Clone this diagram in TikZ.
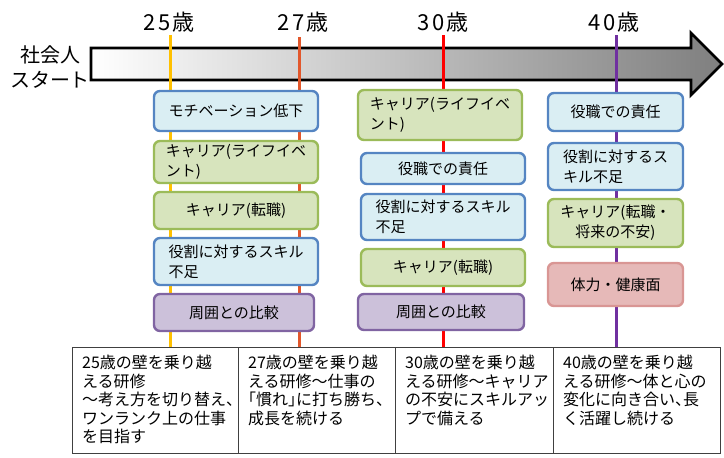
\documentclass[tikz,border=0pt]{standalone}
\usepackage{fontspec}
\setmainfont{Noto Sans CJK JP}
\newfontfamily\tblfont[RawFeature=+halt]{Noto Sans CJK JP}
\definecolor{bluefill}{HTML}{DAEEF3}
\definecolor{bluebd}{HTML}{5585C2}
\definecolor{greenfill}{HTML}{D7E4BD}
\definecolor{greenbd}{HTML}{9BBB59}
\definecolor{purplefill}{HTML}{CCC1DA}
\definecolor{purplebd}{HTML}{8064A2}
\definecolor{redfill}{HTML}{E6B9B8}
\definecolor{redbd}{HTML}{D99694}
\definecolor{c25}{HTML}{FFC000}
\definecolor{c27}{HTML}{E2572B}
\definecolor{c30}{HTML}{FF0000}
\definecolor{c40}{HTML}{7030A0}
\definecolor{arrowend}{HTML}{7F7F7F}
\definecolor{tblline}{HTML}{404040}
\begin{document}
\begin{tikzpicture}[x=1pt,y=-1pt,
  box/.style={rounded corners=6pt, line width=2.4pt, inner sep=0pt,
    font=\fontsize{15}{20}\selectfont, text=black},
  bluebox/.style={box, draw=bluebd, fill=bluefill},
  greenbox/.style={box, draw=greenbd, fill=greenfill},
  purplebox/.style={box, draw=purplebd, fill=purplefill},
  redbox/.style={box, draw=redbd, fill=redfill},
  agelabel/.style={inner sep=0pt, font=\fontsize{22}{24}\selectfont},
  ageline/.style={line width=3pt},
  tbltext/.style={anchor=north west, inner sep=0pt, align=left,
    font=\tblfont\fontsize{16}{18.5}\selectfont},
  tableline/.style={draw=tblline, line width=1pt}
]
\useasboundingbox (0,0) rectangle (724,458);

% big arrow
\shade[left color=white, right color=arrowend]
  (91,48) -- (691,48) -- (691,33) -- (722,64) -- (691,95) -- (691,80) -- (91,80) -- cycle;
\draw[line width=2.8pt, line join=miter]
  (91,48) -- (691,48) -- (691,33) -- (722,64) -- (691,95) -- (691,80) -- (91,80) -- cycle;

\node[inner sep=0pt, align=center, font=\fontsize{20}{25}\selectfont] (start) at (50,67) {社会人\\スタート};

% age labels
\node[agelabel] (l25) at (169,22) {2\kern3pt 5\kern1pt 歳};
\node[agelabel] (l27) at (303,22) {2\kern3pt 7\kern1pt 歳};
\node[agelabel] (l30) at (443,22) {3\kern3pt 0\kern1pt 歳};
\node[agelabel] (l40) at (614,22) {4\kern3pt 0\kern1pt 歳};

% age lines
\coordinate (t25) at (170,35); \coordinate (b25) at (170,347);
\coordinate (t27) at (299,37); \coordinate (b27) at (299,347);
\coordinate (t30) at (443,35); \coordinate (b30) at (443,347);
\coordinate (t40) at (616,35); \coordinate (b40) at (616,347);
\draw[ageline, c25] (t25) -- (b25);
\draw[ageline, c27] (t27) -- (b27);
\draw[ageline, c30] (t30) -- (b30);
\draw[ageline, c40] (t40) -- (b40);

% column 1 (25-27)
\node[bluebox, minimum width=164pt, minimum height=40pt] (a1) at (236,111) {モチベーション低下};
\node[greenbox, minimum width=164pt, minimum height=42pt, align=left] (a2) at (236,162) {キャリア(ライフイベ\\ント)};
\node[greenbox, minimum width=164pt, minimum height=37pt] (a3) at (236,210.5) {キャリア(転職)};
\node[bluebox, minimum width=164pt, minimum height=47pt, align=left] (a4) at (236,261.5) {役割に対するスキル\\不足};
\node[purplebox, minimum width=160pt, minimum height=37pt] (a5) at (234,312.5) {周囲との比較};

% column 2 (30)
\node[greenbox, minimum width=164pt, minimum height=50pt, align=left] (b1) at (440,115) {キャリア(ライフイベ\\ント)};
\node[bluebox, minimum width=164pt, minimum height=31pt] (b2) at (443,168.5) {役職での責任};
\node[bluebox, minimum width=164pt, minimum height=46pt, align=left] (b3) at (443,217) {役割に対するスキル\\不足};
\node[greenbox, minimum width=164pt, minimum height=37pt] (b4) at (443,267.5) {キャリア(転職)};
\node[purplebox, minimum width=166pt, minimum height=36pt] (b5) at (441,312) {周囲との比較};

% column 3 (40)
\node[bluebox, minimum width=135pt, minimum height=38pt] (d1) at (615.5,112) {役職での責任};
\node[bluebox, minimum width=135pt, minimum height=47pt, align=left] (d2) at (615.5,166.5) {役割に対するス\\キル不足};
\node[greenbox, minimum width=135pt, minimum height=48pt, align=center] (d3) at (615.5,223) {キャリア(転職・\\将来の不安)};
\node[redbox, minimum width=135pt, minimum height=43pt] (d4) at (615.5,284.5) {体力・健康面};

% table
\draw[tableline] (72,347) rectangle (720,453);
\draw[tableline] (238,347) -- (238,453);
\draw[tableline] (395,347) -- (395,453);
\draw[tableline] (553,347) -- (553,453);

\node[tbltext] (s25) at (82,355) {25歳の壁を乗り越\\える研修\\～考え方を切り替え、\\ワンランク上の仕事\\を目指す};
\node[tbltext] (s27) at (248,355) {27歳の壁を乗り越\\える研修～仕事の\\「慣れ」に打ち勝ち、\\成長を続ける};
\node[tbltext] (s30) at (405,355) {30歳の壁を乗り越\\える研修～キャリア\\の不安にスキルアッ\\プで備える};
\node[tbltext] (s40) at (563,355) {40歳の壁を乗り越\\える研修～体と心の\\変化に向き合い、長\\く活躍し続ける};
\end{tikzpicture}
\end{document}
